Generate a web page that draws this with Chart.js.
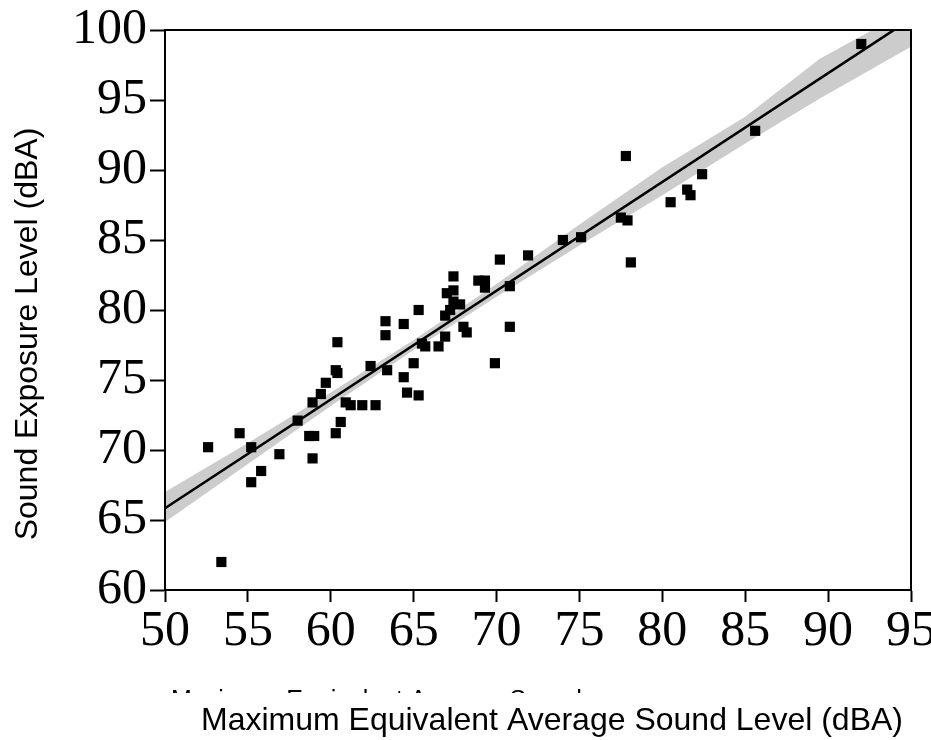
<!DOCTYPE html>
<html><head><meta charset="utf-8">
<script src="https://cdn.jsdelivr.net/npm/chart.js@4.4.0/dist/chart.umd.min.js"></script>
<style>html,body{margin:0;padding:0;background:#fff;}#wrap{width:931px;height:740px;}</style>
</head><body><div id="wrap"><canvas id="c" width="931" height="740"></canvas></div>
<script>
// Observations
const levelX = [52.6, 53.4, 54.5, 55.2, 55.8, 55.2, 56.9, 58.0, 58.7, 59.0, 58.9, 58.9, 59.4, 59.7, 60.3, 60.4, 60.4, 60.3, 60.6, 60.9, 61.2, 61.9, 62.7, 62.4, 63.3, 63.3, 63.4, 64.4, 64.4, 64.6, 65.3, 65.0, 65.3, 65.5, 65.7, 66.5, 66.9, 66.9, 67.2, 67.4, 67.0, 67.4, 67.4, 67.8, 68.0, 68.2, 68.9, 69.3, 69.3, 70.2, 71.9, 70.8, 70.8, 69.9, 74.0, 75.1, 77.5, 77.9, 77.8, 78.1, 80.5, 81.5, 81.7, 82.4, 85.6, 92.0];
const exposureY = [70.2, 62.0, 71.2, 70.2, 68.5, 67.7, 69.7, 72.1, 71.0, 71.0, 69.4, 73.4, 74.0, 74.8, 75.7, 75.5, 77.7, 71.2, 72.0, 73.4, 73.2, 73.2, 73.2, 76.0, 79.2, 78.2, 75.7, 79.0, 75.2, 74.1, 73.9, 76.2, 80.0, 77.6, 77.4, 77.4, 78.1, 79.6, 80.0, 82.4, 81.2, 81.4, 80.6, 80.4, 78.8, 78.4, 82.1, 82.1, 81.6, 83.6, 83.9, 81.7, 78.8, 76.2, 85.0, 85.2, 86.6, 86.4, 91.0, 83.4, 87.7, 88.6, 88.2, 89.7, 92.8, 99.0];
// Regression line end points
const fitX = [50, 95];
const fitY = [65.84, 100.8];
// Confidence band
const bandX = [50, 55, 60, 65, 70, 75, 80, 85, 89.5, 95];
const bandUpper = [67.0, 70.5, 74.1, 77.85, 81.85, 86.1, 90.2, 93.8, 97.95, 101.5];
const bandLower = [64.85, 69.0, 73.15, 77.15, 80.95, 84.6, 88.2, 91.9, 95.1, 98.8];
// Ticks and labels
const xTicks = [50, 55, 60, 65, 70, 75, 80, 85, 90, 95];
const yTicks = [60, 65, 70, 75, 80, 85, 90, 95, 100];
const xTitle = 'Maximum Equivalent Average Sound Level (dBA)';
const yTitle = 'Sound Exposure Level (dBA)';
const ghostTitle = 'Maximum Equivalent Average Sound';

const pts = (xs, ys) => xs.map((x, i) => ({x: x, y: ys[i]}));

const decor = {
  id: 'decor',
  afterDraw(chart) {
    const ctx = chart.ctx, a = chart.chartArea;
    ctx.save();
    ctx.strokeStyle = '#000';
    ctx.lineWidth = 2;
    ctx.strokeRect(a.left, a.top, a.right - a.left, a.bottom - a.top);
    ctx.fillStyle = '#000';
    // y title
    ctx.save();
    ctx.translate(37, 334);
    ctx.rotate(-Math.PI / 2);
    ctx.font = '32px "Liberation Sans", Arial, sans-serif';
    ctx.textAlign = 'center';
    ctx.textBaseline = 'alphabetic';
    ctx.fillText(yTitle, 0, 0);
    ctx.restore();
    // x title
    ctx.font = '32px "Liberation Sans", Arial, sans-serif';
    ctx.textAlign = 'left';
    ctx.textBaseline = 'alphabetic';
    ctx.fillText(xTitle, 201, 730);
    // clipped ghost line (only the tops of tall letters show)
    ctx.save();
    ctx.beginPath();
    ctx.rect(0, 689, 931, 4);
    ctx.clip();
    ctx.font = '25px "Liberation Sans", Arial, sans-serif';
    ctx.fillText(ghostTitle, 171, 708);
    ctx.restore();
    ctx.restore();
  }
};

const tickFont = {family: '"Liberation Serif", "Times New Roman", serif', size: 50};

new Chart(document.getElementById('c'), {
  type: 'scatter',
  data: {
    datasets: [
      {
        label: 'Observations',
        data: pts(levelX, exposureY),
        pointStyle: 'rect',
        pointRadius: 7.2,
        pointHoverRadius: 7.2,
        backgroundColor: '#000',
        borderWidth: 0,
        order: 0
      },
      {
        type: 'line',
        label: 'Fit',
        data: pts(fitX, fitY),
        borderColor: '#000',
        borderWidth: 2.6,
        pointRadius: 0,
        fill: false,
        order: 1
      },
      {
        type: 'line',
        label: 'Upper',
        data: pts(bandX, bandUpper),
        borderWidth: 0,
        borderColor: 'rgba(0,0,0,0)',
        pointRadius: 0,
        backgroundColor: '#cccccc',
        fill: '+1',
        order: 3
      },
      {
        type: 'line',
        label: 'Lower',
        data: pts(bandX, bandLower),
        borderWidth: 0,
        borderColor: 'rgba(0,0,0,0)',
        pointRadius: 0,
        fill: false,
        order: 2
      }
    ]
  },
  options: {
    responsive: false,
    animation: false,
    devicePixelRatio: 1,
    layout: {padding: {top: 30, right: 20, left: 0, bottom: 0}},
    plugins: {legend: {display: false}, tooltip: {enabled: false}},
    scales: {
      x: {
        type: 'linear', min: 50, max: 95,
        afterBuildTicks: s => { s.ticks = xTicks.map(v => ({value: v})); },
        afterFit: s => { s.height = 150; s.paddingLeft = 0; s.paddingRight = 0; },
        ticks: {font: tickFont, color: '#000', padding: 0, maxRotation: 0, autoSkip: false},
        grid: {drawOnChartArea: false, drawTicks: true, tickLength: 12, tickWidth: 2, color: '#000'},
        border: {display: true, color: '#000', width: 2},
        title: {display: false}
      },
      y: {
        type: 'linear', min: 60, max: 100,
        afterBuildTicks: s => { s.ticks = yTicks.map(v => ({value: v})); },
        afterFit: s => { s.width = 165; s.paddingTop = 0; s.paddingBottom = 0; },
        ticks: {font: tickFont, color: '#000', padding: 3, autoSkip: false},
        grid: {drawOnChartArea: false, drawTicks: true, tickLength: 15, tickWidth: 2, color: '#000'},
        border: {display: true, color: '#000', width: 2},
        title: {display: false}
      }
    }
  },
  plugins: [decor]
});
</script>
</body></html>
